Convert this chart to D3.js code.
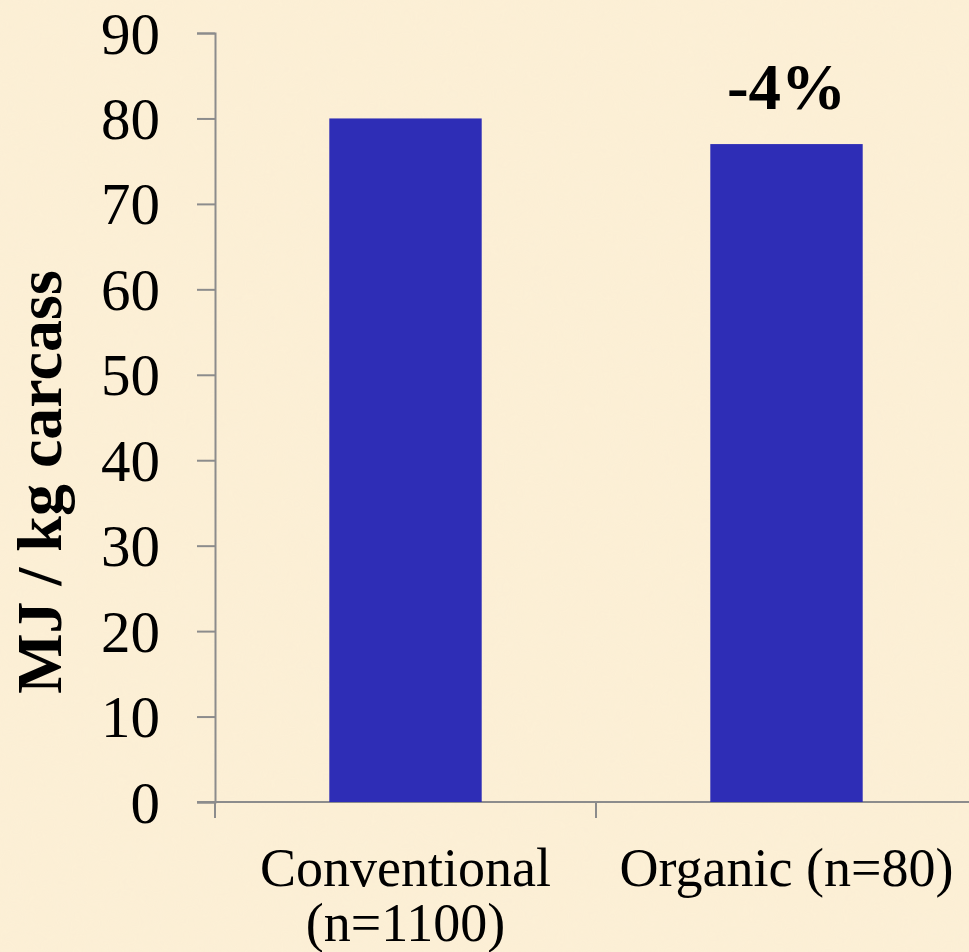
<!DOCTYPE html>
<html>
<head>
<meta charset="utf-8">
<script src="https://cdn.jsdelivr.net/npm/d3@7"></script>
<style>
  html, body { margin: 0; padding: 0; background: #fcefd5; }
  svg { display: block; }
</style>
</head>
<body>
<svg id="chart" width="969" height="952"></svg>
<script>
// Energy use per kg carcass
const categories = ["Conventional\n(n=1100)", "Organic (n=80)"];
const values = [80, 77];
const annotations = ["", "-4%"];
const yTicks = [0, 10, 20, 30, 40, 50, 60, 70, 80, 90];
const yLabel = "MJ / kg carcass";

const svg = d3.select("#chart");
const W = 969, H = 952;
const margin = { left: 215, top: 33 };
const y0 = 802;
const serif = "'Liberation Serif', 'Times New Roman', serif";

// parchment-like background
const defs = svg.append("defs");
const f = defs.append("filter").attr("id", "paper").attr("x", 0).attr("y", 0).attr("width", 1).attr("height", 1);
f.append("feTurbulence").attr("type", "fractalNoise").attr("baseFrequency", "0.035").attr("numOctaves", 3).attr("seed", 4).attr("result", "n");
f.append("feColorMatrix").attr("in", "n").attr("type", "matrix")
  .attr("values", "0 0 0 0 0.93  0 0 0 0 0.86  0 0 0 0 0.70  0 0 0 0.22 0");
svg.append("rect").attr("width", W).attr("height", H).attr("fill", "#fcefd5");
svg.append("rect").attr("width", W).attr("height", H).attr("filter", "url(#paper)").attr("opacity", 0.6);

const y = d3.scaleLinear().domain([0, 90]).range([y0, margin.top]);
const x = d3.scaleBand().domain(categories).range([margin.left, margin.left + 2 * 381])
  .paddingInner(0.6).paddingOuter(0.3);

const axisColor = "#8c8c8c";

// y axis
const yAxis = svg.append("g").attr("transform", `translate(${margin.left},0)`)
  .call(d3.axisLeft(y).tickValues(yTicks).tickSize(18).tickPadding(37));
yAxis.select(".domain").attr("stroke", axisColor).attr("stroke-width", 2);
yAxis.selectAll(".tick line").attr("stroke", axisColor).attr("stroke-width", 2);
yAxis.selectAll(".tick text")
  .attr("font-family", serif)
  .attr("font-size", 59).attr("fill", "#000").attr("dy", "0.34em");

// x axis line and category separators
svg.append("line").attr("x1", margin.left - 18).attr("x2", W).attr("y1", y0).attr("y2", y0)
  .attr("stroke", axisColor).attr("stroke-width", 2);
const sepX = [0, 1, 2].map(i => margin.left + i * 381);
svg.selectAll(".sep").data(sepX).join("line")
  .attr("x1", d => d).attr("x2", d => d).attr("y1", y0).attr("y2", y0 + 16)
  .attr("stroke", axisColor).attr("stroke-width", 2);

// bars
svg.selectAll(".bar").data(values).join("rect")
  .attr("x", (d, i) => x(categories[i]))
  .attr("width", x.bandwidth())
  .attr("y", d => y(d))
  .attr("height", d => y0 - y(d))
  .attr("fill", "#2e2db6");

// annotations above bars
svg.selectAll(".ann").data(annotations).join("text")
  .attr("x", (d, i) => x(categories[i]) + x.bandwidth() / 2)
  .attr("y", (d, i) => y(values[i]) - 35)
  .attr("text-anchor", "middle")
  .attr("font-family", serif)
  .attr("font-weight", "bold").attr("font-size", 65)
  .text(d => d);

// category labels
categories.forEach((c, i) => {
  const lines = c.split("\n");
  const t = svg.append("text")
    .attr("text-anchor", "middle")
    .attr("font-family", serif)
    .attr("font-size", 54).attr("fill", "#000");
  lines.forEach((ln, j) => {
    t.append("tspan").attr("x", x(c) + x.bandwidth() / 2).attr("y", 886 + j * 55).text(ln);
  });
});

// y axis title
svg.append("text")
  .attr("transform", `translate(61, 482) rotate(-90)`)
  .attr("text-anchor", "middle")
  .attr("font-family", serif)
  .attr("font-weight", "bold").attr("font-size", 64).attr("fill", "#000")
  .text(yLabel);
</script>
</body>
</html>
